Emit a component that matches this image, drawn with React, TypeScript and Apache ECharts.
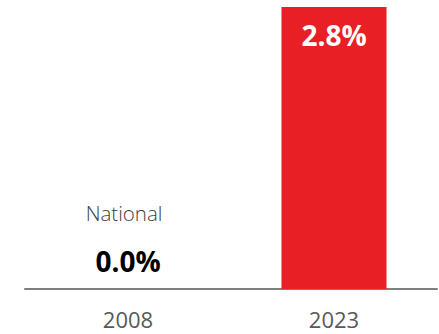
import React, { useEffect, useRef } from "react";
import * as echarts from "echarts";

const categories = ["2008", "2023"];
const values = [0.0, 2.8];
const seriesName = "National";

export default function App() {
  const ref = useRef<HTMLDivElement>(null);
  useEffect(() => {
    const chart = echarts.init(ref.current!, null, { renderer: "svg" });
    const font = "Open Sans";
    chart.setOption({
      animation: false,
      grid: { left: 25, right: 2, top: 7, bottom: 45 },
      xAxis: {
        type: "category",
        data: categories,
        axisLine: { lineStyle: { color: "#7f7f7f", width: 2 } },
        axisTick: { show: false },
        axisLabel: { color: "#595959", fontSize: 22, fontFamily: font, margin: 19 },
      },
      yAxis: {
        type: "value",
        min: 0,
        max: 2.8,
        show: false,
        splitLine: { show: false },
      },
      series: [
        {
          type: "bar",
          name: seriesName,
          barWidth: "51%",
          data: values.map((v, i) =>
            i === 0
              ? {
                  value: v,
                  itemStyle: { color: "#e81f25" },
                  label: {
                    show: true,
                    position: "top",
                    distance: 13,
                    formatter: (p: any) => `{a|${seriesName}}\n{b|${p.value.toFixed(1)}%}`,
                    rich: {
                      a: { fontSize: 20.5, fontWeight: 300, fontFamily: font, color: "#404040", lineHeight: 66, padding: [0, 8, 0, 0] },
                      b: { fontSize: 28, fontWeight: "bold", fontFamily: font, color: "#000000", lineHeight: 30 },
                    },
                  },
                }
              : {
                  value: v,
                  itemStyle: { color: "#e81f25" },
                  label: {
                    show: true,
                    position: "insideTop",
                    distance: 14,
                    formatter: (p: any) => `${p.value.toFixed(1)}%`,
                    fontSize: 28,
                    fontWeight: "bold",
                    fontFamily: font,
                    color: "#ffffff",
                  },
                }
          ),
        },
      ],
    });
    return () => chart.dispose();
  }, []);
  return <div ref={ref} style={{ width: 439, height: 334, position: "absolute", left: 0, top: 0 }} />;
}
